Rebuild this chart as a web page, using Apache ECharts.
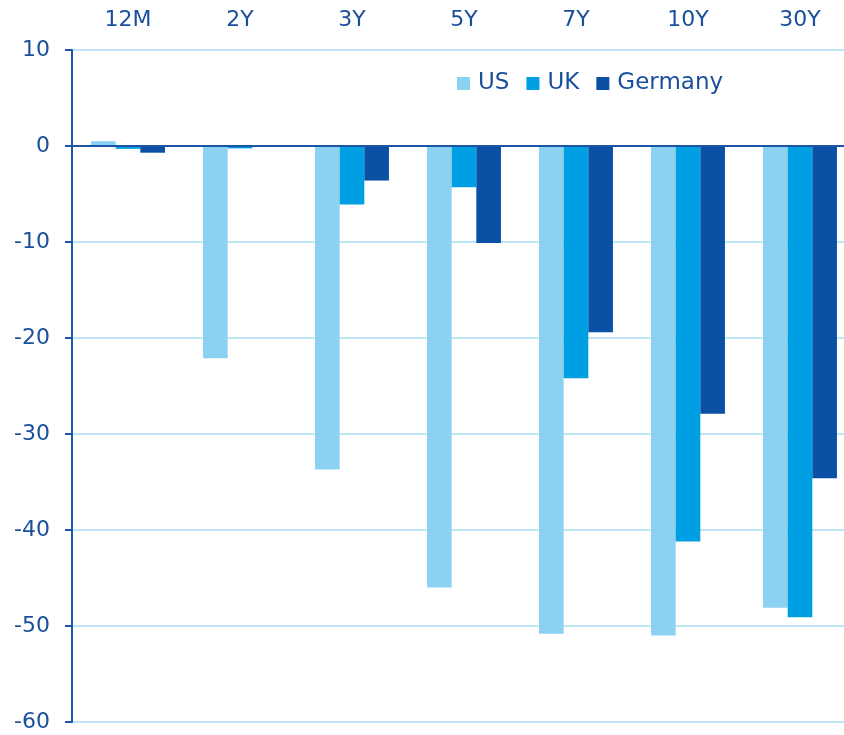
<!DOCTYPE html>
<html>
<head>
<meta charset="utf-8">
<script src="https://cdn.jsdelivr.net/npm/echarts@6/dist/echarts.min.js"></script>
<style>
  html, body { margin: 0; padding: 0; background: #ffffff; overflow: hidden; }
  /* the plot runs a little past the right edge of the window */
  #chart { width: 860px; height: 735px; }
</style>
</head>
<body>
<div id="chart"></div>
<script>
// Yield change by maturity (bp)
const maturities = ['12M', '2Y', '3Y', '5Y', '7Y', '10Y', '30Y'];
const usValues = [0.5, -22.1, -33.7, -46.0, -50.8, -51.0, -48.1];
const ukValues = [-0.3, -0.25, -6.1, -4.3, -24.2, -41.2, -49.1];
const germanyValues = [-0.7, -0.1, -3.6, -10.1, -19.4, -27.9, -34.6];
const yTicks = { min: -60, max: 10, interval: 10 };

const textColor = '#1A4F9C';
const axisColor = '#1C55A6';
const gridColor = '#BFE6F7';
const fontFamily = '"DejaVu Sans", Arial, sans-serif';

const chart = echarts.init(document.getElementById('chart'), null, { renderer: 'canvas' });

const barSeries = (name, data, color) => ({
  name: name,
  type: 'bar',
  data: data,
  barGap: '0%',
  barCategoryGap: '34%',
  itemStyle: { color: color },
  emphasis: { disabled: true }
});

const series = [
  barSeries('US', usValues, '#8BD1F1'),
  barSeries('UK', ukValues, '#009FE3'),
  barSeries('Germany', germanyValues, '#0A51A5')
];

// dark baseline at zero
series[0].markLine = {
  silent: true,
  symbol: 'none',
  label: { show: false },
  lineStyle: { color: axisColor, width: 2, type: 'solid' },
  data: [{ yAxis: 0 }]
};

chart.setOption({
  animation: false,
  backgroundColor: '#ffffff',
  grid: { left: 72, top: 50, right: 4, bottom: 13, containLabel: false },
  legend: {
    left: 452,
    top: 67,
    itemWidth: 13,
    itemHeight: 13,
    itemGap: 17,
    icon: 'rect',
    textStyle: { color: textColor, fontSize: 23, fontFamily: fontFamily, padding: [0, 0, 0, 3] },
    data: ['US', 'UK', 'Germany']
  },
  xAxis: {
    type: 'category',
    data: maturities,
    position: 'top',
    axisLine: { show: false },
    axisTick: { show: false },
    axisLabel: { color: textColor, fontSize: 22, fontFamily: fontFamily, margin: 19 },
    splitLine: { show: false }
  },
  yAxis: {
    type: 'value',
    min: yTicks.min,
    max: yTicks.max,
    interval: yTicks.interval,
    axisLine: { show: true, lineStyle: { color: axisColor, width: 2 } },
    axisTick: { show: true, length: 7, inside: false, lineStyle: { color: axisColor, width: 2 } },
    axisLabel: { color: textColor, fontSize: 22, fontFamily: fontFamily, margin: 22 },
    splitLine: { show: true, lineStyle: { color: gridColor, width: 2 } }
  },
  series: series
});
</script>
</body>
</html>
